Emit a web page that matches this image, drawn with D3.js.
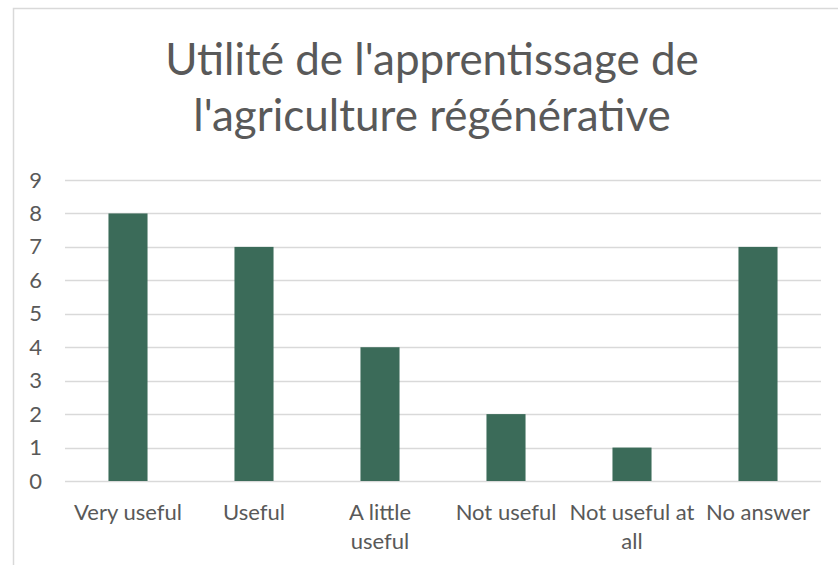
<!DOCTYPE html>
<html>
<head>
<meta charset="utf-8">
<script src="https://cdn.jsdelivr.net/npm/d3@7"></script>
<style>
  body { margin: 0; background: #fff; }
  text { font-family: Lato, "Open Sans", sans-serif; fill: #595959; }
</style>
</head>
<body>
<div id="viz"></div>
<script>
// chart data
var categories = ["Very useful", "Useful", "A little useful", "Not useful", "Not useful at all", "No answer"];
var labelLines = [["Very useful"], ["Useful"], ["A little", "useful"], ["Not useful"], ["Not useful at", "all"], ["No answer"]];
var counts = [8, 7, 4, 2, 1, 7];
var yTicks = [0, 1, 2, 3, 4, 5, 6, 7, 8, 9];
var titleLines = ["Utilité de l'apprentissage de", "l'agriculture régénérative"];

var width = 838, height = 565;
var margin = {top: 180, right: 17, bottom: 84, left: 65};

var svg = d3.select("#viz").append("svg")
  .attr("width", width)
  .attr("height", height);

// chart border (runs off the right and bottom of the picture)
svg.append("rect")
  .attr("x", 13.5).attr("y", 8.5)
  .attr("width", 850).attr("height", 600)
  .attr("fill", "none")
  .attr("stroke", "#d9d9d9")
  .attr("stroke-width", 1.5);

var x = d3.scaleBand()
  .domain(categories)
  .range([margin.left, width - margin.right])
  .paddingInner(0.69)
  .paddingOuter(0.345);

var y = d3.scaleLinear()
  .domain([0, 9])
  .range([height - margin.bottom, margin.top]);

// gridlines
svg.append("g")
  .selectAll("line")
  .data(yTicks)
  .enter()
  .append("line")
  .attr("x1", margin.left)
  .attr("x2", width - margin.right)
  .attr("y1", function(d) { return Math.round(y(d)) + 0.5; })
  .attr("y2", function(d) { return Math.round(y(d)) + 0.5; })
  .attr("stroke", "#d9d9d9")
  .attr("stroke-width", 1.3);

// y axis labels
var yAxis = svg.append("g")
  .attr("transform", "translate(" + (margin.left - 23) + ",0)")
  .call(d3.axisLeft(y).tickValues(yTicks).tickSize(0).tickPadding(0));
yAxis.select(".domain").remove();
yAxis.selectAll("text")
  .style("font-size", "22px")
  .attr("fill", "#595959");

// bars
svg.selectAll(".bar")
  .data(counts)
  .enter()
  .append("rect")
  .attr("class", "bar")
  .attr("x", function(d, i) { return x(categories[i]); })
  .attr("width", x.bandwidth())
  .attr("y", function(d) { return y(d); })
  .attr("height", function(d) { return y(0) - y(d); })
  .attr("fill", "#3b6b59");

// x labels, wrapped like the original
var xl = svg.append("g")
  .selectAll("text")
  .data(labelLines)
  .enter()
  .append("text")
  .attr("text-anchor", "middle")
  .style("font-size", "22px")
  .attr("transform", function(d, i) {
    return "translate(" + (x(categories[i]) + x.bandwidth() / 2) + ",520)";
  });
xl.selectAll("tspan")
  .data(function(d) { return d; })
  .enter()
  .append("tspan")
  .attr("x", 0)
  .attr("y", function(d, j) { return j * 29; })
  .text(function(d) { return d; });

// title
svg.append("g")
  .selectAll("text")
  .data(titleLines)
  .enter()
  .append("text")
  .attr("x", 432)
  .attr("y", function(d, i) { return 75 + i * 56; })
  .attr("text-anchor", "middle")
  .style("font-size", "44px")
  .text(function(d) { return d; });
</script>
</body>
</html>
